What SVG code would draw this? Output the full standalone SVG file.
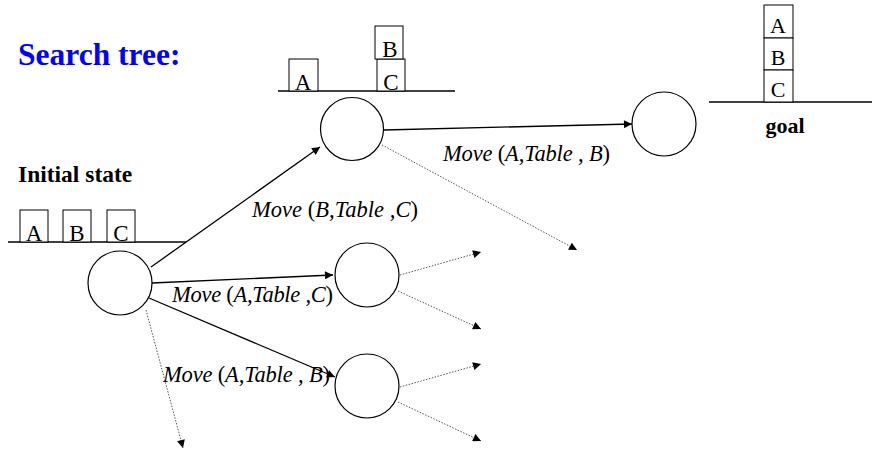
<svg xmlns="http://www.w3.org/2000/svg" width="872" height="452" viewBox="0 0 872 452" font-family="Liberation Serif, Times New Roman, serif">
<style>
.node{fill:#fff;stroke:#000;stroke-width:1.2}
.blk{fill:#fff;stroke:#000;stroke-width:1}
.tbl{stroke:#000;stroke-width:1.3}
.e{stroke:#000;stroke-width:1.3;fill:none}
.d{stroke:#555;stroke-width:1;stroke-dasharray:1.5 1.5;fill:none}
</style>
<defs>
<marker id="ah" viewBox="0 0 10 10" refX="10" refY="5" markerWidth="9" markerHeight="8" markerUnits="userSpaceOnUse" orient="auto"><path d="M0,0 L10,5 L0,10 Z" fill="#000"/></marker>
</defs>
<rect width="872" height="452" fill="#fff"/>
<text x="18" y="65" font-family="Liberation Serif, serif" font-size="31.5" font-weight="bold" fill="#0000ff">Search tree:</text>
<text x="18" y="182" font-family="Liberation Serif, serif" font-size="23.5" font-weight="bold">Initial state</text>
<g id="initial-state" font-family="Liberation Serif, serif" font-size="23" text-anchor="middle">
<line class="tbl" x1="8" y1="242" x2="186" y2="242"/>
<rect class="blk" x="20" y="210" width="28" height="32"/><text x="34" y="241" font-family="Liberation Serif, serif">A</text>
<rect class="blk" x="63" y="210" width="28" height="32"/><text x="77" y="241" font-family="Liberation Serif, serif">B</text>
<rect class="blk" x="107" y="210" width="28" height="32"/><text x="121" y="241" font-family="Liberation Serif, serif">C</text>
</g>
<g id="top-state" font-family="Liberation Serif, serif" font-size="23" text-anchor="middle">
<line class="tbl" x1="278" y1="91" x2="455" y2="91"/>
<rect class="blk" x="289" y="59" width="29" height="32"/><text x="303" y="90" font-family="Liberation Serif, serif">A</text>
<rect class="blk" x="377" y="59" width="28" height="32"/><text x="391" y="90" font-family="Liberation Serif, serif">C</text>
<rect class="blk" x="375" y="26" width="28" height="33"/><text x="390" y="57" font-family="Liberation Serif, serif">B</text>
</g>
<g id="goal-state" font-family="Liberation Serif, serif" font-size="22" text-anchor="middle">
<line class="tbl" x1="709" y1="102" x2="872" y2="102"/>
<rect class="blk" x="764" y="5" width="29" height="33"/><text x="778" y="33" font-family="Liberation Serif, serif">A</text>
<rect class="blk" x="764" y="38" width="29" height="32"/><text x="778" y="65" font-family="Liberation Serif, serif">B</text>
<rect class="blk" x="764" y="70" width="29" height="32"/><text x="778" y="97" font-family="Liberation Serif, serif">C</text>
<text x="785" y="133" font-family="Liberation Serif, serif" font-size="22" font-weight="bold">goal</text>
</g>
<g id="connectors">
<line class="e" x1="151" y1="267" x2="320" y2="147" marker-end="url(#ah)"/>
<line class="e" x1="152" y1="283" x2="333" y2="275" marker-end="url(#ah)"/>
<line class="e" x1="149" y1="298" x2="335" y2="377" marker-end="url(#ah)"/>
<line class="d" x1="146" y1="310" x2="183" y2="448" marker-end="url(#ah)"/>
<line class="e" x1="384" y1="130" x2="632" y2="124" marker-end="url(#ah)"/>
<line class="d" x1="382" y1="145" x2="577" y2="250" marker-end="url(#ah)"/>
<line class="d" x1="400" y1="275" x2="481" y2="252" marker-end="url(#ah)"/>
<line class="d" x1="398" y1="291" x2="481" y2="329" marker-end="url(#ah)"/>
<line class="d" x1="400" y1="387" x2="481" y2="364" marker-end="url(#ah)"/>
<line class="d" x1="398" y1="402" x2="481" y2="441" marker-end="url(#ah)"/>
</g>
<g id="n0"><circle class="node" cx="120" cy="283" r="32"/></g>
<g id="n1"><circle class="node" cx="352" cy="129" r="31.5"/></g>
<g id="n2"><circle class="node" cx="664" cy="124" r="32"/></g>
<g id="n3"><circle class="node" cx="367" cy="275" r="32"/></g>
<g id="n4"><circle class="node" cx="367" cy="386" r="32"/></g>
<g id="labels" font-family="Liberation Serif, serif" font-style="italic" font-size="22.5">
<text x="252" y="217" font-family="Liberation Serif, serif" textLength="166" lengthAdjust="spacing">Move <tspan font-style="normal">(</tspan>B,Table ,C<tspan font-style="normal">)</tspan></text>
<text x="172" y="302" font-family="Liberation Serif, serif" textLength="161" lengthAdjust="spacing">Move <tspan font-style="normal">(</tspan>A,Table ,C<tspan font-style="normal">)</tspan></text>
<text x="443" y="161" font-family="Liberation Serif, serif" textLength="167" lengthAdjust="spacing">Move <tspan font-style="normal">(</tspan>A,Table , B<tspan font-style="normal">)</tspan></text>
<text x="163" y="382" font-family="Liberation Serif, serif" textLength="167" lengthAdjust="spacing">Move <tspan font-style="normal">(</tspan>A,Table , B<tspan font-style="normal">)</tspan></text>
</g>
</svg>
